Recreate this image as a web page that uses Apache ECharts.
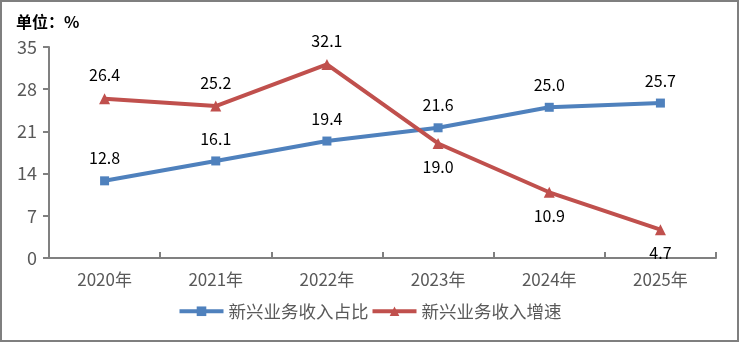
<!DOCTYPE html>
<html>
<head>
<meta charset="utf-8">
<script src="https://cdn.jsdelivr.net/npm/echarts@6/dist/echarts.min.js"></script>
<style>
  html, body { margin: 0; padding: 0; background: #fff; }
  #chart { width: 739px; height: 342px; }
</style>
</head>
<body>
<div id="chart"></div>
<script>
// Categories and series values
var years = ['2020年', '2021年', '2022年', '2023年', '2024年', '2025年'];
var shareValues = [12.8, 16.1, 19.4, 21.6, 25.0, 25.7];
var growthValues = [26.4, 25.2, 32.1, 19.0, 10.9, 4.7];
// Label placement for the growth series (above / below each point)
var growthLabelPos = ['top', 'top', 'top', 'bottom', 'bottom', 'bottom'];
var shareName = '新兴业务收入占比';
var growthName = '新兴业务收入增速';

var FONT = '"Noto Sans CJK SC", "Microsoft YaHei", sans-serif';

var chart = echarts.init(document.getElementById('chart'), null, { renderer: 'canvas' });

var labelStyle = {
  show: true,
  color: '#000',
  fontSize: 16,
  fontFamily: FONT,
  distance: 10,
  formatter: function (p) { return p.value.toFixed(1); }
};

chart.setOption({
  backgroundColor: '#fff',
  animation: false,
  textStyle: { fontFamily: FONT },
  graphic: [{
    type: 'rect',
    shape: { x: 1, y: 1, width: 737, height: 340 },
    style: { fill: 'none', stroke: '#7f7f7f', lineWidth: 2 },
    silent: true
  }],
  title: {
    text: '单位：%',
    left: 11,
    top: 9,
    textStyle: { fontSize: 16, fontWeight: 'bold', color: '#000', fontFamily: FONT }
  },
  legend: {
    bottom: 17,
    left: 'center',
    itemWidth: 44,
    itemHeight: 12,
    itemGap: 2,
    lineStyle: { width: 4 },
    textStyle: { fontSize: 17.5, color: '#595959', fontFamily: FONT },
    data: [shareName, growthName]
  },
  grid: { left: 49, right: 23, top: 47, bottom: 84 },
  xAxis: {
    type: 'category',
    data: years,
    boundaryGap: true,
    axisLine: { lineStyle: { color: '#808080', width: 2 } },
    axisTick: { show: true, inside: true, length: 6, lineStyle: { color: '#808080', width: 2 } },
    axisLabel: { fontSize: 17, color: '#595959', margin: 13, fontFamily: FONT }
  },
  yAxis: {
    type: 'value',
    min: 0,
    max: 35,
    interval: 7,
    splitLine: { show: false },
    axisLine: { show: true, lineStyle: { color: '#808080', width: 2 } },
    axisTick: { show: true, length: 6, lineStyle: { color: '#808080', width: 2 } },
    axisLabel: { fontSize: 18, color: '#595959', margin: 12, fontFamily: FONT }
  },
  series: [
    {
      name: shareName,
      type: 'line',
      data: shareValues,
      symbol: 'rect',
      symbolSize: 9,
      color: '#4f81bd',
      lineStyle: { width: 4, color: '#4f81bd' },
      itemStyle: { color: '#4f81bd' },
      label: Object.assign({ position: 'top' }, labelStyle)
    },
    {
      name: growthName,
      type: 'line',
      data: growthValues.map(function (v, i) {
        return { value: v, label: { position: growthLabelPos[i] } };
      }),
      symbol: 'triangle',
      symbolSize: 11,
      color: '#c0504d',
      lineStyle: { width: 4, color: '#c0504d' },
      itemStyle: { color: '#c0504d' },
      label: labelStyle
    }
  ]
});
</script>
</body>
</html>
